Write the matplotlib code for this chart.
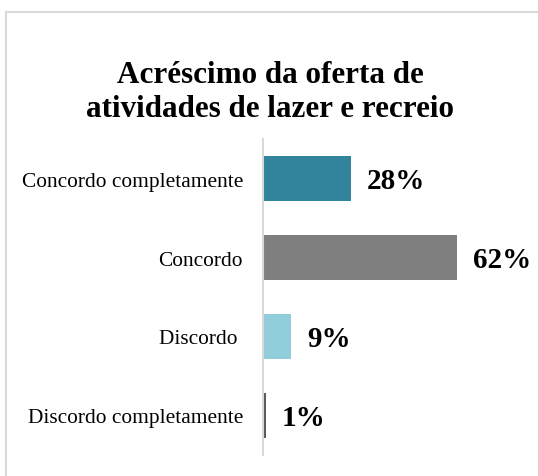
import matplotlib.pyplot as plt
from matplotlib.patches import Rectangle

# dados
categorias = ["Concordo completamente", "Concordo", "Discordo ", "Discordo completamente"]
valores = [28, 62, 9, 1]
cores = ["#31849B", "#7F7F7F", "#92CDDC", "#595959"]

plt.rcParams['font.family'] = ['Liberation Serif', 'DejaVu Serif']

fig = plt.figure(figsize=(5.38, 4.77), dpi=100)

# moldura do gráfico (cortada à direita e em baixo)
fig.patches.append(Rectangle((6 / 538, -0.1), 1.2, 1 - 13 / 477 + 0.1,
                             transform=fig.transFigure, fill=False,
                             edgecolor="#D9D9D9", linewidth=1.5))

fig.text(270 / 538, 0.806, "Acréscimo da oferta de\natividades de lazer e recreio",
         ha='center', va='center', fontsize=22.4, fontweight='bold', linespacing=1.22)

ax = fig.add_axes([263 / 538, 1 - 456 / 477, 250.4 / 538, 316 / 477])
y = list(range(len(categorias)))
ax.barh(y, valores, height=0.58, color=cores)
ax.set_xlim(0, 80)
ax.set_ylim(3.5, -0.5)

ax.set_yticks(y)
ax.set_yticklabels(categorias, fontsize=15.4)
ax.tick_params(axis='y', length=0, pad=14.4)
ax.set_xticks([])

for s in ['top', 'right', 'bottom']:
    ax.spines[s].set_visible(False)
ax.spines['left'].set_color("#D9D9D9")
ax.spines['left'].set_linewidth(1.5)

# rótulos de valor
for yi, v in zip(y, valores):
    ax.annotate(f"{v}%", (v, yi), xytext=(11.5, -1.5), textcoords='offset points',
                ha='left', va='center', fontsize=21, fontweight='bold',
                annotation_clip=False)

fig.savefig("out.png", dpi=100)
